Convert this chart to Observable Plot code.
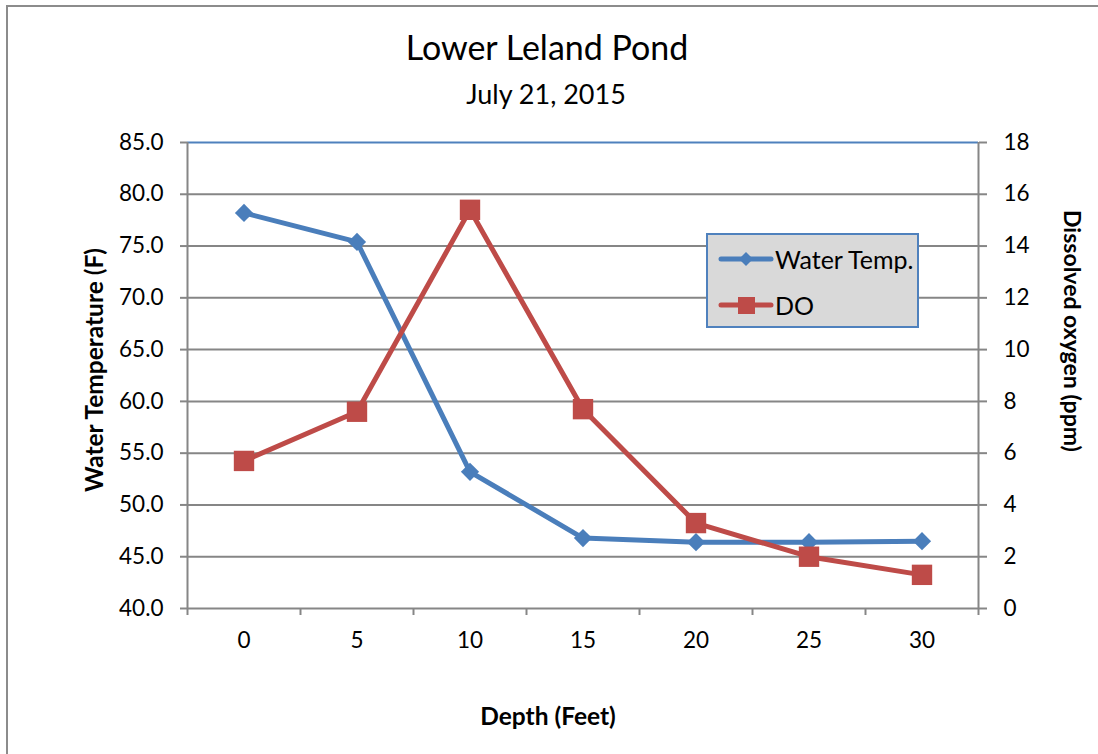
<!DOCTYPE html>
<html><head><meta charset="utf-8">
<script src="https://cdn.jsdelivr.net/npm/d3@7"></script>
<script src="https://cdn.jsdelivr.net/npm/@observablehq/plot@0.6"></script>
<style>
body{margin:0;background:#fff;font-family:Lato, sans-serif;}
#wrap{position:relative;width:1098px;height:754px;overflow:hidden;background:#fff;}
#frame{position:absolute;left:6px;top:5px;width:1200px;height:900px;border:2px solid #8c8c8c;box-sizing:border-box;}
#chart{position:absolute;left:0;top:0;}
.t{position:absolute;white-space:nowrap;color:#000;transform:translate(-50%,-50%);line-height:1;}
.b{font-weight:700;}
#legend{position:absolute;left:706px;top:233px;width:213px;height:95px;background:#d9d9d9;border:2px solid #4f81bd;box-sizing:border-box;}
.li{position:absolute;left:10px;display:flex;align-items:center;font-size:25px;color:#000;}
.li svg{margin-right:1px;}
</style></head><body>
<div id="wrap">
<div id="frame"></div>
<div id="chart"></div>
<div class="t" style="left:547px;top:47px;font-size:34px">Lower Leland Pond</div>
<div class="t" style="left:546px;top:93px;font-size:27px">July 21, 2015</div>
<div class="t b" style="left:94px;top:370px;font-size:24.5px;transform:translate(-50%,-50%) rotate(-90deg)">Water Temperature (F)</div>
<div class="t b" style="left:1072px;top:331px;font-size:23px;transform:translate(-50%,-50%) rotate(90deg)">Dissolved oxygen (ppm)</div>
<div class="t b" style="left:548px;top:716px;font-size:24.5px">Depth (Feet)</div>
<div id="legend"></div>
</div>
<script>
// ---- data ----
const depth = [0, 5, 10, 15, 20, 25, 30];
const waterTemp = [78.2, 75.4, 53.2, 46.8, 46.4, 46.4, 46.5];
const dissolvedO2 = [5.7, 7.6, 15.4, 7.7, 3.3, 2.0, 1.3];
const tempTicks = [40, 45, 50, 55, 60, 65, 70, 75, 80, 85];
const doTicks = [0, 2, 4, 6, 8, 10, 12, 14, 16, 18];
const seriesNames = ["Water Temp.", "DO"];
const seriesColors = ["#4a7ebb", "#be4b48"];

// ---- scales ----
const tempDomain = [tempTicks[0], tempTicks[tempTicks.length - 1]];
const doDomain = [doTicks[0], doTicks[doTicks.length - 1]];
const k = (tempDomain[1] - tempDomain[0]) / (doDomain[1] - doDomain[0]);
const toTemp = v => tempDomain[0] + (v - doDomain[0]) * k;
const fromTemp = t => doDomain[0] + (t - tempDomain[0]) / k;
const step = depth[1] - depth[0];
const xDomain = [depth[0] - step / 2, depth[depth.length - 1] + step / 2];
const bounds = depth.map(d => d - step / 2).concat([xDomain[1]]);

const rows = depth.map((d, i) => ({depth: d, temp: waterTemp[i], dO: dissolvedO2[i]}));
const grid = "#868686";

const chart = Plot.plot({
  width: 1098, height: 754,
  marginLeft: 187, marginRight: 120, marginTop: 142, marginBottom: 146,
  x: {domain: xDomain},
  y: {domain: tempDomain},
  style: {fontFamily: "Lato, sans-serif", color: "#000", background: "transparent", overflow: "visible"},
  marks: [
    Plot.ruleY(tempTicks.slice(0, -1), {stroke: grid, strokeWidth: 2}),
    Plot.ruleY([tempDomain[1]], {stroke: "#4f81bd", strokeWidth: 2}),
    Plot.ruleX(xDomain, {stroke: grid, strokeWidth: 2}),
    Plot.axisY({ticks: tempTicks, tickFormat: d => d.toFixed(1), tickSize: 7, tickPadding: 17, label: null, stroke: grid, strokeWidth: 2, fontSize: 22.5}),
    Plot.axisY({anchor: "right", ticks: doTicks.map(toTemp), tickFormat: d => String(Math.round(fromTemp(d))), tickSize: 8, tickPadding: 17, label: null, stroke: grid, strokeWidth: 2, fontSize: 22.5}),
    Plot.axisX({ticks: bounds, tickFormat: () => "", tickSize: 7, label: null, stroke: grid, strokeWidth: 2}),
    Plot.axisX({ticks: depth, tickSize: 0, tickPadding: 24, label: null, fontSize: 22.5}),
    Plot.line(rows, {x: "depth", y: "temp", stroke: seriesColors[0], strokeWidth: 5}),
    Plot.dot(rows, {x: "depth", y: "temp", symbol: "diamond2", r: 8.2, fill: seriesColors[0], stroke: "none"}),
    Plot.line(rows, {x: "depth", y: d => toTemp(d.dO), stroke: seriesColors[1], strokeWidth: 5}),
    Plot.dot(rows, {x: "depth", y: d => toTemp(d.dO), symbol: "square", r: 11.5, fill: seriesColors[1], stroke: "none"})
  ]
});
document.getElementById("chart").appendChild(chart);

// ---- legend ----
const legend = document.getElementById("legend");
const tops = [9, 55];
seriesNames.forEach((name, i) => {
  const item = document.createElement("div");
  item.className = "li";
  item.style.top = tops[i] + "px";
  const marker = i === 0
    ? `<polygon points="28,4 35,11 28,18 21,11" fill="${seriesColors[i]}"/>`
    : `<rect x="20" y="3" width="17" height="17" fill="${seriesColors[i]}"/>`;
  item.innerHTML = `<svg width="56" height="22" viewBox="0 0 56 22"><line x1="3" y1="11" x2="53" y2="11" stroke="${seriesColors[i]}" stroke-width="5" stroke-linecap="round"/>${marker}</svg><span>${name}</span>`;
  legend.appendChild(item);
});
</script>
</body></html>
